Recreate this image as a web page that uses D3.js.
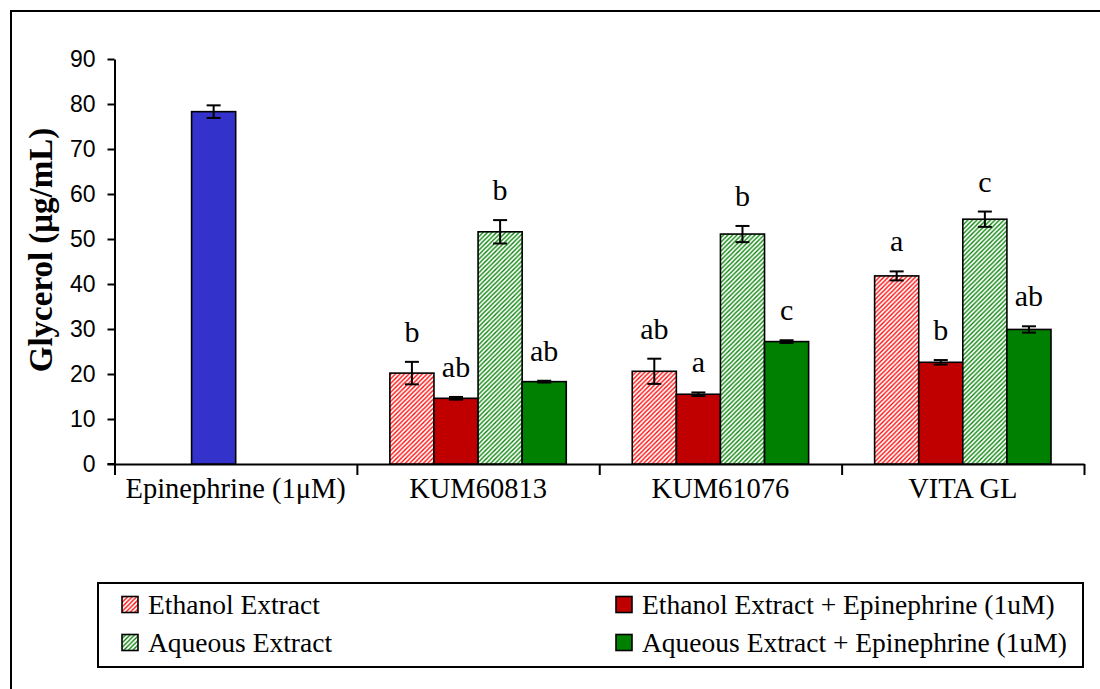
<!DOCTYPE html>
<html>
<head>
<meta charset="utf-8">
<script src="https://cdn.jsdelivr.net/npm/d3@7"></script>
<style>
  html, body { margin: 0; padding: 0; background: #fff; }
  svg { display: block; }
</style>
</head>
<body>
<svg id="chart" width="1100" height="689"></svg>
<script>
// ---------------- data ----------------
const categories = ["Epinephrine (1\u03BCM)", "KUM60813", "KUM61076", "VITA GL"];
const seriesNames = ["Ethanol Extract", "Ethanol Extract + Epinephrine (1uM)", "Aqueous Extract", "Aqueous Extract + Epinephrine (1uM)"];

const ethanol        = [null, 20.2, 20.6, 41.8];
const ethanolErr     = [null, 2.5, 2.8, 1.0];
const ethanolEpi     = [null, 14.6, 15.5, 22.6];
const ethanolEpiErr  = [null, 0.3, 0.4, 0.5];
const aqueous        = [null, 51.6, 51.1, 54.4];
const aqueousErr     = [null, 2.6, 1.8, 1.7];
const aqueousEpi     = [null, 18.3, 27.2, 29.9];
const aqueousEpiErr  = [null, 0.2, 0.3, 0.7];

const ethanolLetters    = ["", "b", "ab", "a"];
const ethanolEpiLetters = ["", "ab", "a", "b"];
const aqueousLetters    = ["", "b", "b", "c"];
const aqueousEpiLetters = ["", "ab", "c", "ab"];

// epinephrine-only control (drawn in slot of series 2 of first category)
const epinephrine    = 78.3;
const epinephrineErr = 1.4;

const yTicks = [0, 10, 20, 30, 40, 50, 60, 70, 80, 90];

// ---------------- layout ----------------
const svg = d3.select("#chart");
const x0 = 114.5, x1 = 1084, yBase = 464, yTop = 59;
const serif = "Liberation Serif, Times New Roman, serif";

const x = d3.scaleBand().domain(categories).range([x0, x1]).paddingInner(0).paddingOuter(0);
const gw = x.bandwidth();
const gapFrac = 33 / 242.4;
const xs = d3.scaleBand().domain(seriesNames).range([gw * gapFrac, gw * (1 - gapFrac)]).padding(0);
const y = d3.scaleLinear().domain([0, 90]).range([yBase, yTop]);

// patterns
const defs = svg.append("defs");
function hatch(id, color) {
  const p = defs.append("pattern").attr("id", id).attr("patternUnits", "userSpaceOnUse")
    .attr("width", 4.5).attr("height", 4.5);
  p.append("rect").attr("width", 4.5).attr("height", 4.5).attr("fill", "#fff");
  p.append("path").attr("d", "M-1,1 L1,-1 M0,4.5 L4.5,0 M3.5,5.5 L5.5,3.5")
    .attr("stroke", color).attr("stroke-width", 1.3);
}
hatch("hatchRed", "#ff0000");
hatch("hatchGreen", "#008000");

const fills = ["url(#hatchRed)", "#c00000", "url(#hatchGreen)", "#008000"];

// outer frame
svg.append("rect").attr("x", 11).attr("y", 11).attr("width", 1200).attr("height", 800)
  .attr("fill", "none").attr("stroke", "#000").attr("stroke-width", 2);

// y axis
const yAxis = d3.axisLeft(y).tickValues(yTicks).tickSize(7).tickPadding(12).tickSizeOuter(0);
const gy = svg.append("g").attr("transform", `translate(${x0},0)`).call(yAxis);
gy.select(".domain").attr("stroke-width", 2);
gy.selectAll(".tick line").attr("stroke-width", 2);
gy.selectAll(".tick text").attr("font-family", "Liberation Sans, Arial, sans-serif").attr("font-size", 23).attr("fill", "#000");

// x axis line and ticks
const xAxisScale = d3.scaleLinear().domain([0, categories.length]).range([x0, x1]);
const gx = svg.append("g").attr("transform", `translate(0,${yBase})`)
  .call(d3.axisBottom(xAxisScale).ticks(categories.length).tickSize(11).tickSizeOuter(0).tickFormat(""));
gx.select(".domain").attr("stroke-width", 2);
gx.selectAll(".tick line").attr("stroke-width", 2);
// small stub to the left of y axis
svg.append("line").attr("x1", x0 - 7).attr("x2", x0).attr("y1", yBase).attr("y2", yBase)
  .attr("stroke", "#000").attr("stroke-width", 2);

// category labels
svg.append("g").selectAll("text").data(categories).join("text")
  .attr("x", d => x(d) + gw / 2).attr("y", 498)
  .attr("text-anchor", "middle")
  .attr("font-family", serif)
  .attr("font-size", 28.5).attr("fill", "#000")
  .text(d => d);

// y axis title
svg.append("text")
  .attr("transform", `translate(52,250) rotate(-90)`)
  .attr("text-anchor", "middle")
  .attr("font-family", serif)
  .attr("font-weight", "bold").attr("font-size", 33).attr("fill", "#000")
  .text("Glycerol (\u03BCg/mL)");

// build bar records
const seriesData = [
  [ethanol, ethanolErr, ethanolLetters],
  [ethanolEpi, ethanolEpiErr, ethanolEpiLetters],
  [aqueous, aqueousErr, aqueousLetters],
  [aqueousEpi, aqueousEpiErr, aqueousEpiLetters]
];
const bars = [];
categories.forEach((c, ci) => {
  seriesData.forEach((s, si) => {
    if (s[0][ci] != null) {
      bars.push({ cat: c, ser: seriesNames[si], value: s[0][ci], err: s[1][ci], letter: s[2][ci], fill: fills[si] });
    }
  });
});
bars.push({ cat: categories[0], ser: seriesNames[1], value: epinephrine, err: epinephrineErr, letter: "", fill: "#3333cc" });

const gb = svg.append("g");
gb.selectAll("rect").data(bars).join("rect")
  .attr("x", d => x(d.cat) + xs(d.ser))
  .attr("width", xs.bandwidth())
  .attr("y", d => y(d.value))
  .attr("height", d => yBase - y(d.value))
  .attr("fill", d => d.fill)
  .attr("stroke", "#000").attr("stroke-width", 1.6);

// error bars
const ge = svg.append("g").attr("stroke", "#000").attr("stroke-width", 2);
bars.forEach(d => {
  const cx = x(d.cat) + xs(d.ser) + xs.bandwidth() / 2;
  const t = y(d.value + d.err), b = y(d.value - d.err);
  ge.append("line").attr("x1", cx).attr("x2", cx).attr("y1", t).attr("y2", b);
  ge.append("line").attr("x1", cx - 7).attr("x2", cx + 7).attr("y1", t).attr("y2", t);
  ge.append("line").attr("x1", cx - 7).attr("x2", cx + 7).attr("y1", b).attr("y2", b);
});

// significance letters
svg.append("g").selectAll("text").data(bars.filter(d => d.letter)).join("text")
  .attr("x", d => x(d.cat) + xs(d.ser) + xs.bandwidth() / 2)
  .attr("y", d => y(d.value + d.err) - 20)
  .attr("text-anchor", "middle")
  .attr("font-family", serif)
  .attr("font-size", 30).attr("fill", "#000")
  .text(d => d.letter);

// legend
svg.append("rect").attr("x", 98).attr("y", 583).attr("width", 985).attr("height", 84)
  .attr("fill", "#fff").attr("stroke", "#000").attr("stroke-width", 2);
const legendPos = [
  { sx: 122, ty: 605 }, { sx: 616, ty: 605 },
  { sx: 122, ty: 643 }, { sx: 616, ty: 643 }
];
const lg = svg.append("g");
seriesNames.forEach((n, i) => {
  const p = legendPos[i];
  lg.append("rect").attr("x", p.sx).attr("y", p.ty - 8.5).attr("width", 16).attr("height", 16)
    .attr("fill", fills[i]).attr("stroke", "#000").attr("stroke-width", 1.6);
  lg.append("text").attr("x", p.sx + 26).attr("y", p.ty + 9)
    .attr("font-family", serif)
    .attr("font-size", 27.5).attr("fill", "#000").text(n);
});
</script>
</body>
</html>
